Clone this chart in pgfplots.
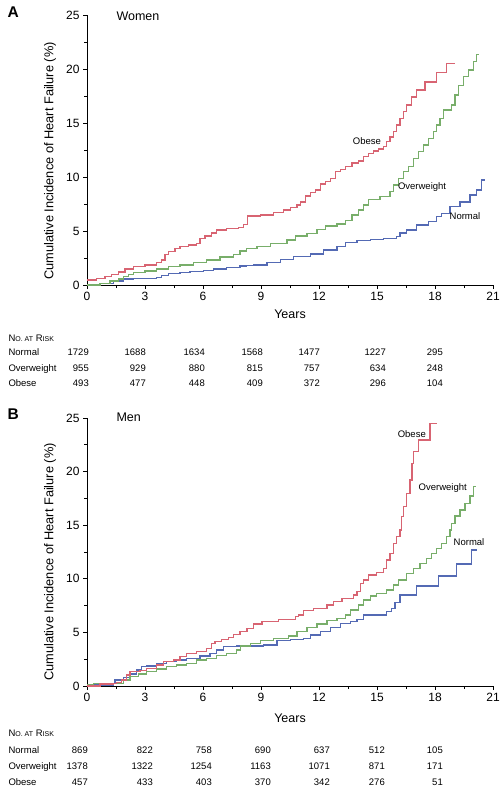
\documentclass[border=0pt]{standalone}
\usepackage{fontspec}
\setmainfont{Liberation Sans}
\usepackage{pgfplots}
\pgfplotsset{compat=1.18}
\definecolor{cRed}{RGB}{216,100,114}
\definecolor{cGreen}{RGB}{120,174,106}
\definecolor{cBlue}{RGB}{84,106,180}
\pgfplotsset{km/.style={
  width=406pt, scale only axis,
  xmin=0, xmax=21, ymin=0, ymax=25,
  axis x line=bottom, axis y line=left,
  axis line style={-, line width=0.8pt},
  xtick={0,3,...,21}, ytick={0,5,...,25},
  minor xtick={1.5,4.5,...,19.5}, minor ytick={2.5,7.5,...,22.5},
  tick align=outside, major tick length=4pt, minor tick length=3pt,
  tick style={black, line width=0.7pt},
  ticklabel style={font=\fontsize{12}{12}\selectfont},
  /pgf/number format/assume math mode=true,
  clip=false,
  every axis plot/.append style={line width=1.4pt, const plot mark left, mark=none},
}}
\newcommand{\lab}{\fontsize{9.5}{10}\selectfont}
\newcommand{\nar}{{\lab N{\fontsize{7}{8}\selectfont O. AT} R{\fontsize{7}{8}\selectfont ISK}}}
\begin{document}
\begin{tikzpicture}
\useasboundingbox (0,0) rectangle (503pt,-791pt);
% ---------------- Panel A
\node[anchor=west, font=\bfseries\fontsize{15.5}{16}\selectfont] at (4pt,-12.5pt) {A};
\begin{axis}[km, height=270pt, at={(87pt,-285pt)}, anchor=south west]
\addplot[cBlue] coordinates {(0,0) (0.67,0.15) (1.36,0.37) (1.88,0.55) (2.4,0.6) (3.6,0.68) (3.86,0.86) (4.2,1.08) (4.81,1.14) (5.33,1.23) (6.02,1.36) (6.53,1.48) (7.22,1.6) (7.91,1.76) (8.26,1.8) (8.62,1.85) (9.31,2.07) (10.0,2.38) (10.69,2.62) (11.55,2.87) (12.24,3.24) (12.93,3.55) (13.36,3.92) (13.97,4.1) (14.66,4.2) (15.33,4.32) (16.02,4.48) (16.19,4.8) (16.53,5.1) (17.05,5.55) (17.65,5.86) (18.08,6.33) (18.34,6.64) (18.77,7.25) (19.29,7.7) (19.81,8.33) (20.15,8.8) (20.41,9.72) (20.59,9.72)};
\addplot[cGreen] coordinates {(0,0) (0.67,0.15) (1.19,0.37) (1.62,0.55) (1.88,0.77) (2.14,1.0) (2.4,1.17) (3.0,1.3) (3.6,1.48) (4.2,1.7) (4.81,1.85) (5.5,2.1) (6.19,2.3) (6.88,2.6) (7.57,2.85) (7.91,3.15) (8.26,3.4) (8.79,3.55) (9.48,3.86) (10.34,4.17) (10.78,4.54) (11.38,4.78) (11.9,5.15) (12.33,5.46) (12.93,5.65) (13.36,6.0) (13.71,6.48) (14.05,6.94) (14.31,7.4) (14.57,7.9) (15.15,8.18) (15.67,8.64) (15.85,9.26) (16.1,9.88) (16.36,10.5) (16.62,10.96) (16.88,11.73) (17.14,12.35) (17.4,12.96) (17.65,13.58) (17.91,14.2) (18.08,14.8) (18.26,15.43) (18.43,16.2) (18.86,16.67) (19.03,17.6) (19.2,18.5) (19.46,19.3) (19.72,19.9) (19.98,20.7) (20.15,21.36) (20.29,21.36)};
\addplot[cRed] coordinates {(0,0.46) (0.5,0.6) (0.93,0.8) (1.28,1.0) (1.62,1.2) (1.97,1.5) (2.4,1.7) (3.0,1.85) (3.6,2.1) (3.86,2.3) (4.03,2.8) (4.2,3.1) (4.55,3.4) (4.81,3.55) (5.24,3.7) (5.67,3.85) (5.84,4.3) (6.1,4.55) (6.45,4.8) (6.7,5.1) (7.22,5.25) (7.83,5.35) (8.09,5.6) (8.3,6.4) (8.97,6.5) (9.66,6.7) (10.17,6.94) (10.52,7.2) (10.86,7.4) (11.03,7.7) (11.29,8.24) (11.55,8.55) (11.81,8.8) (12.07,9.35) (12.33,9.57) (12.59,9.88) (12.84,10.5) (13.1,10.7) (13.36,10.96) (13.71,11.3) (14.05,11.5) (14.31,11.9) (14.57,12.2) (14.83,12.4) (15.09,12.6) (15.33,12.8) (15.5,13.27) (15.67,13.7) (15.85,14.2) (16.02,14.8) (16.19,15.4) (16.36,16.05) (16.53,16.67) (16.79,17.4) (17.05,18.05) (17.48,18.8) (18.08,19.7) (18.6,20.5) (19.03,20.5)};
\node[font=\lab] at (axis cs:14.48,13.33) {Obese};
\node[font=\lab] at (axis cs:17.33,9.07) {Overweight};
\node[font=\lab] at (axis cs:19.55,6.39) {Normal};
\end{axis}
\node[anchor=west, font=\fontsize{12.5}{13}\selectfont] at (113pt,-16pt) {Women};
\node[rotate=90, font=\fontsize{12.8}{13}\selectfont] at (50pt,-161pt) {Cumulative Incidence of Heart Failure (\%)};
\node[font=\fontsize{12.5}{13}\selectfont] at (290pt,-314pt) {Years};
% table A
\node[anchor=base west] at (5pt,-341.4pt) {\nar};
\node[anchor=base west, font=\lab] at (5pt,-355.4pt) {Normal};
\node[anchor=base west, font=\lab] at (5pt,-371pt) {Overweight};
\node[anchor=base west, font=\lab] at (5pt,-386.4pt) {Obese};
\foreach \x/\a/\b/\c in {89/1729/955/493, 146/1688/929/477, 205/1634/880/448, 263/1568/815/409, 320/1477/757/372, 386/1227/634/296, 443/295/248/104}{
  \node[anchor=base east, font=\lab, inner sep=0pt] at (\x pt,-355.4pt) {\a};
  \node[anchor=base east, font=\lab, inner sep=0pt] at (\x pt,-371pt) {\b};
  \node[anchor=base east, font=\lab, inner sep=0pt] at (\x pt,-386.4pt) {\c};
}
% ---------------- Panel B
\node[anchor=west, font=\bfseries\fontsize{15.5}{16}\selectfont] at (4pt,-414.5pt) {B};
\begin{axis}[km, height=268pt, at={(87pt,-686pt)}, anchor=south west]
\addplot[cBlue] coordinates {(0,0) (0.33,0.1) (1.36,0.25) (1.45,0.56) (1.88,0.8) (2.22,1.12) (2.57,1.5) (2.83,1.8) (3.09,1.87) (3.6,2.1) (4.12,2.27) (4.64,2.43) (5.16,2.58) (5.84,2.8) (6.36,3.05) (6.71,3.36) (7.05,3.67) (7.74,3.73) (9.14,3.82) (9.83,4.23) (10.52,4.35) (11.21,4.45) (11.55,4.76) (12.07,5.07) (12.59,5.47) (13.1,5.85) (13.62,6.0) (13.97,6.22) (14.31,6.62) (15.5,6.93) (15.76,7.25) (15.93,7.77) (16.19,8.49) (17.05,9.33) (18.17,10.26) (19.12,11.38) (19.9,12.69) (20.16,12.69)};
\addplot[cGreen] coordinates {(0,0.15) (0.33,0.25) (1.88,0.56) (2.22,0.87) (2.66,1.12) (3.09,1.34) (3.6,1.59) (4.12,1.8) (4.64,1.96) (5.16,2.1) (5.67,2.43) (6.19,2.58) (6.71,2.83) (7.22,3.05) (7.74,3.36) (7.93,3.73) (8.45,3.98) (8.97,4.23) (9.66,4.45) (10.43,4.66) (10.86,5.07) (11.38,5.47) (11.9,5.78) (12.41,6.09) (12.93,6.31) (13.36,6.62) (13.62,7.09) (14.05,7.56) (14.31,8.02) (14.66,8.4) (14.98,8.64) (15.5,8.96) (15.85,9.42) (16.1,9.89) (16.54,10.5) (16.88,10.98) (17.23,11.44) (17.57,11.9) (17.83,12.38) (18.09,12.84) (18.35,13.3) (18.6,13.93) (18.78,14.55) (18.86,15.17) (19.04,15.86) (19.3,16.42) (19.55,17.04) (19.81,17.72) (19.98,18.6) (20.12,18.6)};
\addplot[cRed] coordinates {(0,0) (0.67,0.2) (1.36,0.25) (1.53,0.3) (1.79,0.56) (2.05,1.03) (2.22,1.34) (2.74,1.43) (3.09,1.65) (3.6,1.96) (3.95,2.27) (4.47,2.43) (4.81,2.74) (5.16,3.05) (5.67,3.2) (6.19,3.5) (6.45,3.98) (6.62,4.14) (6.97,4.35) (7.31,4.54) (7.57,4.82) (7.91,5.1) (8.28,5.38) (8.62,5.78) (9.05,6.0) (9.91,6.22) (10.78,6.47) (10.95,6.62) (11.21,7.03) (11.72,7.25) (12.41,7.56) (12.76,7.87) (13.19,8.18) (13.79,8.49) (13.97,8.8) (14.14,9.58) (14.31,9.89) (14.57,10.35) (14.98,10.57) (15.33,10.98) (15.5,11.75) (15.67,12.38) (15.85,13.3) (16.02,13.93) (16.19,14.55) (16.28,15.8) (16.36,16.73) (16.54,17.97) (16.71,19.2) (16.8,20.77) (16.88,21.86) (17.14,22.95) (17.74,24.5) (18.09,24.5)};
\node[font=\lab] at (axis cs:16.8,23.5) {Obese};
\node[font=\lab] at (axis cs:18.4,18.5) {Overweight};
\node[font=\lab] at (axis cs:19.76,13.4) {Normal};
\end{axis}
\node[anchor=west, font=\fontsize{12.5}{13}\selectfont] at (113pt,-417pt) {Men};
\node[rotate=90, font=\fontsize{12.8}{13}\selectfont] at (50pt,-562pt) {Cumulative Incidence of Heart Failure (\%)};
\node[font=\fontsize{12.5}{13}\selectfont] at (290pt,-718pt) {Years};
% table B
\node[anchor=base west] at (5pt,-736.4pt) {\nar};
\node[anchor=base west, font=\lab] at (5pt,-753.4pt) {Normal};
\node[anchor=base west, font=\lab] at (5pt,-769.4pt) {Overweight};
\node[anchor=base west, font=\lab] at (5pt,-785.4pt) {Obese};
\foreach \x/\a/\b/\c in {88/869/1378/457, 153/822/1322/433, 212/758/1254/403, 271/690/1163/370, 330/637/1071/342, 385/512/871/276, 443/105/171/51}{
  \node[anchor=base east, font=\lab, inner sep=0pt] at (\x pt,-753.4pt) {\a};
  \node[anchor=base east, font=\lab, inner sep=0pt] at (\x pt,-769.4pt) {\b};
  \node[anchor=base east, font=\lab, inner sep=0pt] at (\x pt,-785.4pt) {\c};
}
\end{tikzpicture}
\end{document}
